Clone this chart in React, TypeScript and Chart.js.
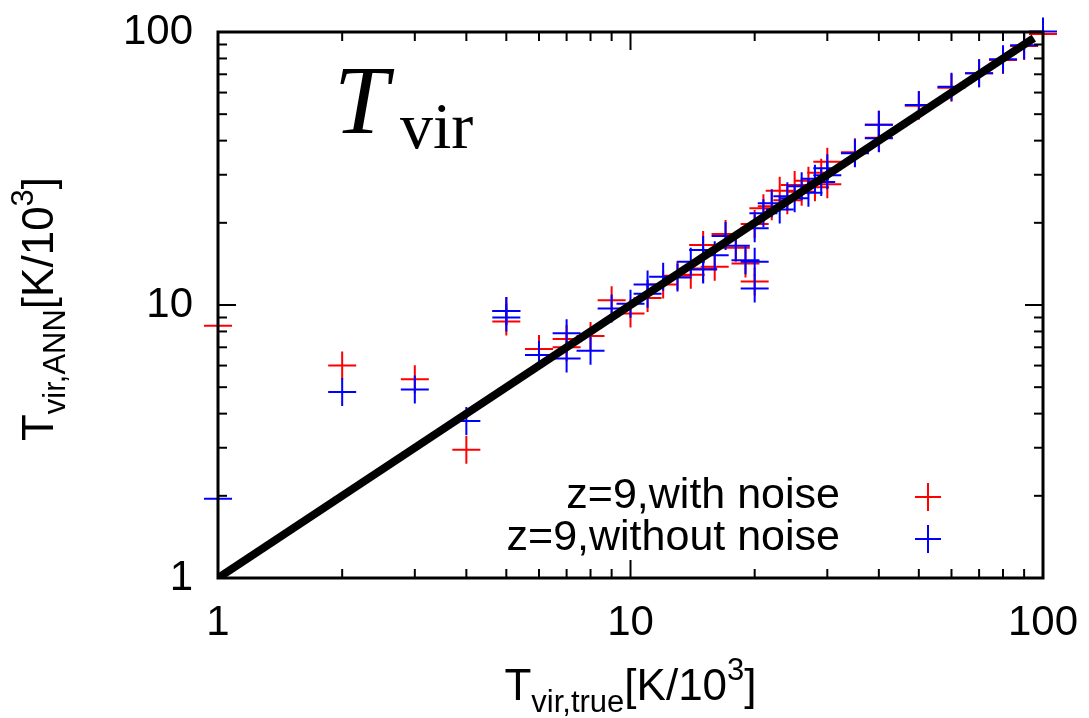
import React, { useEffect, useRef } from "react";
import { Chart, registerables } from "chart.js";

Chart.register(...registerables);

// ---------- data ----------
const SERIES_LABELS = ["z=9,with noise", "z=9,without noise"];
const SERIES_COLORS = ["#ff0000", "#0000ff"];

const RED_X = [1, 2, 3, 4, 5, 5, 6, 7, 7, 8, 9, 10, 11, 12, 13, 14, 15, 15, 16, 17, 18, 19, 20, 20, 21, 22, 23, 24, 25, 26, 27, 28, 29, 30, 30, 35, 40, 40, 50, 60, 70, 80, 90, 100];
const RED_Y = [8.4, 6.0, 5.35, 2.95, 9.5, 8.7, 6.9, 7.5, 7.0, 7.7, 10.4, 9.3, 10.6, 11.9, 12.8, 12.9, 16.6, 13.6, 13.8, 18.2, 16.2, 14.2, 12.2, 19.8, 22.6, 23.0, 26.2, 24.2, 27.5, 26.0, 28.5, 27.0, 30.5, 33.5, 27.7, 36.3, 45.7, 41.0, 53.7, 62.5, 70.6, 78.9, 88.9, 98.3];

const BLUE_X = [1, 2, 3, 4, 5, 5, 6, 7, 7, 8, 9, 10, 11, 11, 12, 13, 14, 15, 15, 16, 17, 18, 19, 20, 20, 20, 21, 22, 23, 24, 25, 26, 27, 28, 29, 30, 30, 35, 40, 40, 50, 60, 70, 80, 90, 100];
const BLUE_Y = [1.95, 4.8, 4.9, 3.76, 9.5, 9.0, 6.56, 7.88, 6.37, 6.8, 9.7, 10.1, 11.9, 11.0, 12.7, 12.6, 14.4, 15.9, 13.5, 15.2, 17.9, 16.5, 14.6, 19.1, 14.4, 11.5, 21.7, 23.6, 22.4, 25.0, 24.6, 27.2, 25.8, 29.0, 28.2, 31.7, 29.9, 36.0, 45.7, 40.8, 54.0, 63.0, 70.6, 79.5, 89.5, 100.5];

const LINE_X = [1, 95];
const LINE_Y = [1, 95];

const MAJOR_TICKS = [1, 10, 100];
const MINOR_TICKS = [2, 3, 4, 5, 6, 7, 8, 9, 20, 30, 40, 50, 60, 70, 80, 90];

const X_TITLE = ["T", "vir,true", "[K/10", "3", "]"];
const Y_TITLE = ["T", "vir,ANN", "[K/10", "3", "]"];
const PANEL_TITLE = ["T", "vir"];

const SANS = "'Liberation Sans', Arial, Helvetica, sans-serif";
const SERIF = "'Liberation Serif', 'Times New Roman', serif";

type Part = { text: string; font: string; dy: number };

function drawRich(ctx: CanvasRenderingContext2D, parts: Part[], x: number, y: number) {
  let total = 0;
  const widths: number[] = [];
  for (const p of parts) {
    ctx.font = p.font;
    const w = ctx.measureText(p.text).width;
    widths.push(w);
    total += w;
  }
  let cx = x - total / 2;
  parts.forEach((p, i) => {
    ctx.font = p.font;
    ctx.fillText(p.text, cx, y + p.dy);
    cx += widths[i];
  });
}

function titleParts(t: string[]): Part[] {
  const big = `44px ${SANS}`;
  const small = `31px ${SANS}`;
  return [
    { text: t[0], font: big, dy: 0 },
    { text: t[1], font: small, dy: 12 },
    { text: t[2], font: big, dy: 0 },
    { text: t[3], font: small, dy: -20 },
    { text: t[4], font: big, dy: 0 },
  ];
}

const decorPlugin = {
  id: "decor",
  afterDraw(chart: any) {
    const ctx: CanvasRenderingContext2D = chart.ctx;
    const { left, right, top, bottom } = chart.chartArea;
    const xs = chart.scales.x;
    const ys = chart.scales.y;
    ctx.save();
    ctx.strokeStyle = "#000";
    ctx.lineCap = "butt";
    const seg = (x1: number, y1: number, x2: number, y2: number) => {
      ctx.beginPath();
      ctx.moveTo(x1, y1);
      ctx.lineTo(x2, y2);
      ctx.stroke();
    };
    ctx.lineWidth = 2;
    const drawTicks = (vals: number[], len: number) => {
      for (const v of vals) {
        const px = xs.getPixelForValue(v);
        seg(px, bottom, px, bottom - len);
        seg(px, top, px, top + len);
        const py = ys.getPixelForValue(v);
        seg(left, py, left + len, py);
        seg(right, py, right - len, py);
      }
    };
    drawTicks(MAJOR_TICKS, 18);
    drawTicks(MINOR_TICKS, 9);
    ctx.lineWidth = 3;
    ctx.strokeRect(left, top, right - left, bottom - top);

    // texts
    ctx.fillStyle = "#000";
    ctx.textAlign = "left";
    ctx.textBaseline = "alphabetic";

    // x title
    drawRich(ctx, titleParts(X_TITLE), (left + right) / 2, 700);
    // y title
    ctx.save();
    ctx.translate(53, (top + bottom) / 2 + 4);
    ctx.rotate(-Math.PI / 2);
    drawRich(ctx, titleParts(Y_TITLE), 0, 0);
    ctx.restore();

    // panel title
    ctx.font = `italic 98px ${SERIF}`;
    ctx.fillText(PANEL_TITLE[0], 334, 133);
    ctx.font = `66px ${SERIF}`;
    ctx.fillText(PANEL_TITLE[1], 400, 148);

    // legend
    const legendDatasets = chart.data.datasets.filter((d: any) => d.isSeries);
    legendDatasets.forEach((d: any, i: number) => {
      const base = 508 + i * 42;
      ctx.font = `43px ${SANS}`;
      ctx.textAlign = "right";
      ctx.fillStyle = "#000";
      ctx.fillText(d.label, 840, base);
      ctx.strokeStyle = d.borderColor;
      ctx.lineWidth = 2;
      const cx = 928;
      const cy = base - 11;
      seg(cx - 13, cy, cx + 13, cy);
      seg(cx, cy - 14, cx, cy + 14);
    });
    ctx.restore();
  },
};

export default function App() {
  const ref = useRef<HTMLCanvasElement>(null);

  useEffect(() => {
    const toPts = (xs: number[], ys: number[]) => xs.map((x, i) => ({ x, y: ys[i] }));
    const tickFont = { family: SANS, size: 42 };
    const zeroPad = (s: any) => {
      s.paddingTop = 0;
      s.paddingBottom = 0;
      s.paddingLeft = 0;
      s.paddingRight = 0;
    };
    const chart = new Chart(ref.current as HTMLCanvasElement, {
      type: "scatter",
      data: {
        datasets: [
          {
            type: "line",
            label: "y=x",
            data: toPts(LINE_X, LINE_Y),
            borderColor: "#000",
            borderWidth: 8,
            pointRadius: 0,
            fill: false,
            order: 0,
          } as any,
          {
            label: SERIES_LABELS[0],
            isSeries: true,
            data: toPts(RED_X, RED_Y),
            pointStyle: "cross",
            pointRadius: 14,
            borderWidth: 2,
            borderColor: SERIES_COLORS[0],
            backgroundColor: SERIES_COLORS[0],
            clip: false,
            order: 2,
          } as any,
          {
            label: SERIES_LABELS[1],
            isSeries: true,
            data: toPts(BLUE_X, BLUE_Y),
            pointStyle: "cross",
            pointRadius: 14,
            borderWidth: 2,
            borderColor: SERIES_COLORS[1],
            backgroundColor: SERIES_COLORS[1],
            clip: false,
            order: 1,
          } as any,
        ],
      },
      options: {
        responsive: false,
        animation: false,
        events: [],
        layout: { padding: { top: 32, right: 46, left: 0, bottom: 0 }, autoPadding: false } as any,
        plugins: { legend: { display: false }, tooltip: { enabled: false } },
        scales: {
          x: {
            type: "logarithmic",
            position: "bottom",
            min: 1,
            max: 100,
            grid: { display: false, drawTicks: false },
            border: { display: false },
            ticks: {
              font: tickFont,
              color: "#000",
              padding: 20,
              maxRotation: 0,
              autoSkip: false,
              callback: (v: any) => String(v),
            },
            afterBuildTicks: (s: any) => {
              s.ticks = MAJOR_TICKS.map((v) => ({ value: v }));
            },
            afterFit: (s: any) => {
              s.height = 140;
              zeroPad(s);
            },
          },
          y: {
            type: "logarithmic",
            position: "left",
            min: 1,
            max: 100,
            grid: { display: false, drawTicks: false },
            border: { display: false },
            ticks: {
              font: tickFont,
              color: "#000",
              padding: 25,
              autoSkip: false,
              callback: (v: any) => String(v),
            },
            afterBuildTicks: (s: any) => {
              s.ticks = MAJOR_TICKS.map((v) => ({ value: v }));
            },
            afterFit: (s: any) => {
              s.width = 218;
              zeroPad(s);
            },
          },
        },
      } as any,
      plugins: [decorPlugin],
    });
    return () => chart.destroy();
  }, []);

  return (
    <div style={{ position: "fixed", left: 0, top: 0, width: 1089, height: 718, background: "#fff" }}>
      <canvas ref={ref} width={1089} height={718} style={{ display: "block", width: 1089, height: 718 }} />
    </div>
  );
}
